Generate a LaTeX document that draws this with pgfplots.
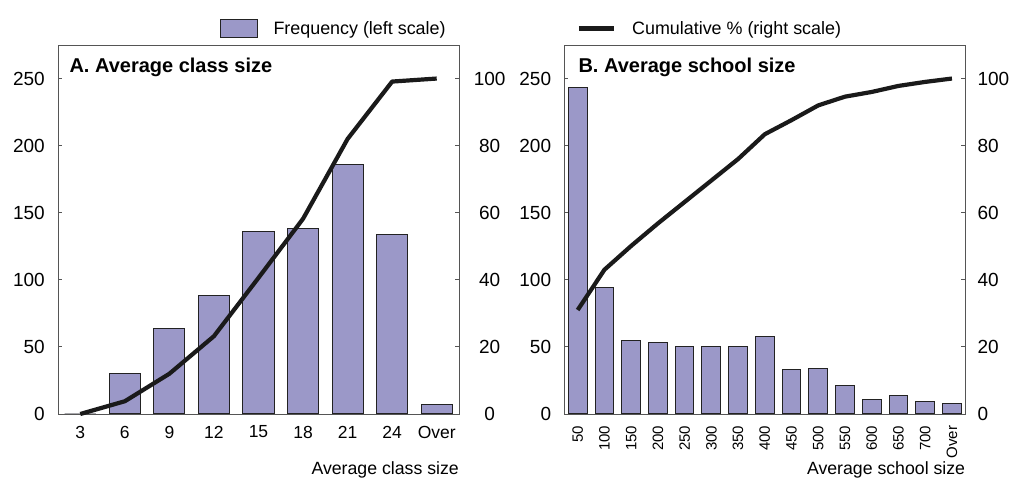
\documentclass[border=0pt]{standalone}
\usepackage{pgfplots}
\pgfplotsset{compat=1.18}
\usepackage{fontspec}
\setmainfont{Liberation Sans}
\definecolor{barfill}{HTML}{9B98C8}
\definecolor{bardraw}{HTML}{222222}
\definecolor{axgray}{HTML}{555555}
\definecolor{linecol}{HTML}{1A1A1A}
\pgfplotsset{
  base/.style={scale only axis, width=401pt, height=369pt, anchor=south west, ymin=0,
    axis line style={axgray, line width=0.9pt}, tick align=inside, major tick length=4pt,
    every tick/.style={axgray, line width=0.9pt},
    /pgf/number format/assume math mode=true, clip=false},
  freq/.style={base, ymax=275, ytick={0,50,100,150,200,250}, ytick pos=left,
    major x tick style={draw=none},
    yticklabel style={font=\fontsize{19}{19}\selectfont, inner sep=0pt},
    yticklabel shift=13pt,
    ybar, bar width=0.7,
    legend style={draw=none, fill=none, inner sep=0pt, outer sep=0pt, anchor=west,
      nodes={inner sep=0pt}, /tikz/column sep=0pt, font=\fontsize{17.9}{17.9}\selectfont}},
  cum/.style={base, ymax=110, ytick={0,20,40,60,80,100}, axis y line*=right, axis x line=none,
    yticklabel style={font=\fontsize{19}{19}\selectfont, inner sep=0pt},
    legend style={draw=none, fill=none, inner sep=0pt, outer sep=0pt, anchor=west,
      nodes={inner sep=0pt}, /tikz/column sep=0pt, font=\fontsize{17.9}{17.9}\selectfont}},
  barplot/.style={fill=barfill, draw=bardraw, line width=1pt,
    legend image code/.code={\draw[fill=barfill, draw=bardraw, line width=1pt] (0pt,-9pt) rectangle (36.5pt,9pt); \path[draw=none, fill=none] (0pt,0pt) -- (53pt,0pt);}},
  lineplot/.style={linecol, line width=4.2pt, line join=round, mark=none,
    legend image code/.code={\draw[linecol, line width=4.2pt] (0pt,0pt) -- (35.6pt,0pt); \path[draw=none, fill=none] (0pt,0pt) -- (53.3pt,0pt);}},
}
\pgfplotstableread{
x freq cum
0 0 0
1 30 3.8
2 64 12.0
3 88 23.2
4 136 40.6
5 138 58.2
6 186 82.0
7 134 99.1
8 7 100
}\classdata
\pgfplotstableread{
x freq cum
0 243 31.0
1 94 43.0
2 55 50.1
3 53 56.8
4 50 63.2
5 50 69.6
6 50 76.0
7 58 83.4
8 33 87.6
9 34 92.0
10 21 94.6
11 11 96.0
12 14 97.8
13 9 99.0
14 8 100
}\schooldata
\begin{document}
\begin{tikzpicture}
\useasboundingbox (0pt,0pt) rectangle (1012pt,479pt);
% ---------- Panel A ----------
\begin{axis}[freq, at={(58pt,65pt)}, xmin=-0.5, xmax=8.5,
  xtick={0,...,8}, xticklabels={3,6,9,12,15,18,21,24,Over},
  xticklabel style={font=\fontsize{17.5}{17.5}\selectfont, inner sep=0pt, anchor=north},
  xticklabel shift=7.7pt,
  legend style={at={(axis description cs:0.404,1)}, yshift=16.5pt}]
\addplot[barplot] table[x=x, y=freq] {\classdata};
\addlegendentry{Frequency (left scale)}
\node[anchor=base west, inner sep=0pt, font=\bfseries\fontsize{20}{20}\selectfont]
  at (rel axis cs:0,1) [xshift=11.3pt, yshift=-27.7pt] {A. Average class size};
\node[anchor=north east, inner sep=0pt, font=\fontsize{17.7}{17.7}\selectfont]
  at (rel axis cs:1,0) [yshift=-47pt] {Average class size};
\end{axis}
\begin{axis}[cum, at={(58pt,65pt)}, xmin=-0.5, xmax=8.5,
  yticklabel style={anchor=center}, yticklabel shift=30.7pt]
\addplot[lineplot] table[x=x, y=cum] {\classdata};
\end{axis}
% ---------- Panel B ----------
\begin{axis}[freq, at={(564.3pt,65pt)}, xmin=-0.5, xmax=14.5,
  xtick={0,...,14}, xticklabels={50,100,150,200,250,300,350,400,450,500,550,600,650,700,Over},
  xticklabel style={font=\fontsize{15}{15}\selectfont, inner sep=0pt, rotate=90, anchor=east},
  xticklabel shift=7.7pt]
\addplot[barplot] table[x=x, y=freq] {\schooldata};
\node[anchor=base west, inner sep=0pt, font=\bfseries\fontsize{20}{20}\selectfont]
  at (rel axis cs:0,1) [xshift=14pt, yshift=-27.7pt] {B. Average school size};
\node[anchor=north east, inner sep=0pt, font=\fontsize{17.7}{17.7}\selectfont]
  at (rel axis cs:1,0) [yshift=-47pt] {Average school size};
\end{axis}
\begin{axis}[cum, at={(564.3pt,65pt)}, xmin=-0.5, xmax=14.5,
  yticklabel style={anchor=west}, yticklabel shift=12pt,
  legend style={at={(axis description cs:0.031,1)}, yshift=16.5pt}]
\addplot[lineplot] table[x=x, y=cum] {\schooldata};
\addlegendentry{Cumulative \% (right scale)}
\end{axis}
\end{tikzpicture}
\end{document}
